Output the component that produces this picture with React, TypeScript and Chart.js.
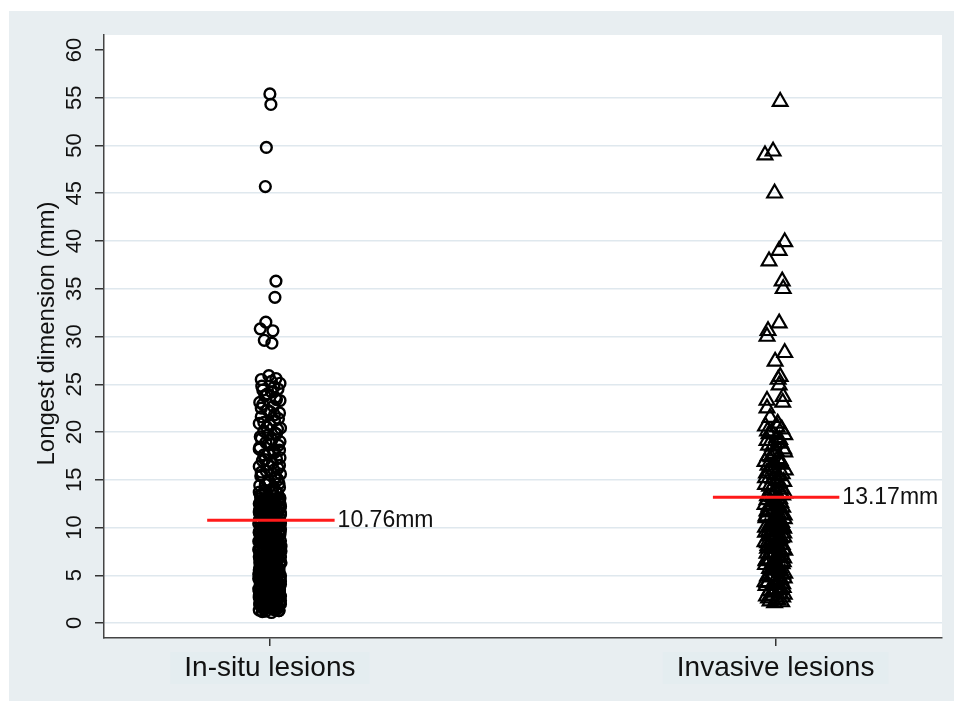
import React, { useEffect, useRef } from "react";
import { Chart, registerables } from "chart.js";

Chart.register(...registerables);

const categories = ["In-situ lesions", "Invasive lesions"];
const yTicks = [0, 5, 10, 15, 20, 25, 30, 35, 40, 45, 50, 55, 60];
const yTitle = "Longest dimension (mm)";
const meanValues = [10.76, 13.17];
const meanLabels = ["10.76mm", "13.17mm"];
const meanLineStart = [0.876, 1.876];
const meanLineEnd = [1.128, 2.126];

const insituY = [
  55.4, 54.3, 49.8, 45.7, 35.8, 34.1, 31.5, 30.8, 30.6, 29.6, 29.3,
  25.9, 25.6, 25.1, 24.8, 24.5, 24.2, 23.8, 23.4, 23.1, 22.7, 22.3, 22.0, 21.6, 21.2, 20.9, 20.7, 20.4, 20.1,
  19.8, 19.5, 19.2, 18.9, 18.6, 18.2, 18.0, 17.7, 17.3, 17.0, 16.7, 16.4, 16.2, 15.9, 15.6, 15.4, 15.1, 14.9,
  14.6, 14.4, 14.1, 13.9, 13.6, 13.4, 13.1, 12.9, 12.7, 12.5, 12.3, 12.1, 11.9, 11.7, 11.5, 11.3, 11.1, 10.9,
  10.7, 10.5, 10.3, 10.1, 9.9, 9.7, 9.5, 9.3, 9.1, 8.9, 8.7, 8.5, 8.3, 8.1, 7.9, 7.7, 7.5, 7.3, 7.1, 6.9, 6.7,
  6.5, 6.3, 6.1, 5.9, 5.7, 5.5, 5.3, 5.1, 4.9, 4.7, 4.5, 4.3, 4.1, 3.9, 3.7, 3.5, 3.3, 3.1, 2.9, 2.7, 2.5, 2.3,
  2.1, 1.9, 1.7, 1.5, 1.3, 1.2,
  1.4, 1.6, 1.8, 2.0, 2.2, 2.4, 2.6, 2.8, 3.0, 3.2, 3.4, 3.6, 3.8, 4.0, 4.2, 4.4, 4.6, 4.8, 5.0, 5.2, 5.4, 5.6,
  5.8, 6.0, 6.2, 6.4, 6.6, 6.8, 7.0, 7.2, 7.4, 7.6, 7.8, 8.0, 8.2, 8.4, 8.6, 8.8, 9.0, 9.2, 9.4, 9.6, 9.8, 10.0,
  10.2, 10.4, 10.6, 10.8, 11.0, 11.2, 11.4, 11.6, 11.8, 12.0, 12.2, 12.4, 12.6, 12.8, 13.0, 13.3, 13.7, 14.2,
  14.7, 15.3, 15.8, 16.5, 17.1, 17.8, 18.4, 19.0, 19.7, 20.3, 21.0, 21.8, 22.5, 23.6, 24.4, 25.3,
  1.1, 1.35, 1.55, 1.75, 1.95, 2.15, 2.35, 2.55, 2.75, 2.95, 3.15, 3.35, 3.55, 3.75, 3.95, 4.15, 4.35, 4.55, 4.75, 4.95,
  5.15, 5.35, 5.55, 5.75, 5.95, 6.15, 6.35, 6.55, 6.75, 6.95, 7.15, 7.35, 7.55, 7.75, 7.95, 8.15, 8.35, 8.55, 8.75, 8.95,
  9.15, 9.35, 9.55, 9.75, 9.95, 10.15, 10.35, 10.55, 10.75, 10.95, 11.15, 11.35, 11.55, 11.75, 11.95, 12.15, 12.35, 12.55,
  12.75, 12.95, 13.2, 13.5, 13.8,
  1.25, 1.45, 1.65, 1.85, 2.05, 2.25, 2.45, 2.65, 2.85, 3.05, 3.25, 3.45, 3.65, 3.85, 4.05, 4.25, 4.45, 4.65, 4.85, 5.05,
  5.25, 5.45, 5.65, 5.85, 6.05, 6.25, 6.45, 6.65, 6.85, 7.05, 7.25, 7.45, 7.65, 7.85, 8.05, 8.25, 8.45, 8.65, 8.85, 9.05,
  9.25, 9.45, 9.65, 9.85, 10.05, 10.25, 10.45, 10.65, 10.85, 11.05, 11.25, 11.45, 11.65, 11.85, 12.05, 12.25, 12.45, 12.65,
  12.85, 13.05,
  14.0, 14.5, 15.0, 15.5, 16.0, 16.6, 17.2, 17.6, 18.1, 18.7, 19.3, 19.9, 20.5, 21.4, 22.1, 22.9, 23.3, 24.0, 24.7, 25.5,
  1.3, 1.55, 1.8, 2.05, 2.3, 2.55, 2.8, 3.05, 3.3, 3.55, 3.8, 4.05, 4.3, 4.55, 4.8, 5.05, 5.3, 5.55, 5.8, 6.05,
  6.3, 6.55, 6.8, 7.05, 7.3, 7.55, 7.8, 8.05, 8.3, 8.55, 8.8, 9.05, 9.3, 9.55, 9.8, 10.05, 10.3, 10.55, 10.8, 11.05,
  11.3, 11.55, 11.8, 12.05, 12.3, 12.55, 12.8,
];
const insituX = [
  1.000, 1.002, 0.993, 0.991, 1.012, 1.010, 0.992, 0.981, 1.006, 0.989, 1.004,
  0.998, 1.012, 1.020, 0.984, 1.016, 1.003, 0.990, 1.013, 0.980, 1.007, 0.995, 1.019, 0.983, 1.009, 0.979, 1.000, 1.021, 0.988,
  1.013, 0.981, 1.004, 0.992, 1.017, 0.979, 1.009, 0.997, 1.020, 0.985, 1.005, 0.979, 1.016, 0.993, 1.021, 0.982, 1.010, 0.998,
  1.018, 0.980, 1.006, 0.990, 1.015, 0.981, 1.020, 0.996, 1.010, 0.979, 0.988, 1.017, 1.002, 0.984, 1.021, 0.995, 1.011, 0.980,
  1.005, 0.990, 1.018, 0.985, 1.014, 0.998, 0.979, 1.020, 1.007, 0.988, 1.016, 0.981, 1.003, 0.993, 1.019, 0.978, 1.011, 0.985, 1.000, 1.021, 0.990,
  1.014, 0.980, 1.006, 0.995, 1.018, 0.982, 1.009, 0.978, 1.000, 1.020, 0.988, 1.015, 0.981, 1.005, 0.993, 1.019, 0.979, 1.010, 0.987, 1.017, 0.982, 1.000,
  1.020, 0.980, 1.012, 0.990, 1.018, 0.985,
  1.008, 0.996, 0.984, 1.021, 1.004, 0.987, 1.014, 0.979, 1.001, 1.019, 0.991, 1.010, 0.981, 1.016, 0.996, 1.021, 0.979, 1.008, 0.987, 1.018, 0.995, 1.003,
  0.980, 1.012, 0.988, 1.020, 0.998, 0.981, 1.014, 0.992, 1.019, 0.979, 1.004, 0.987, 1.016, 0.997, 1.021, 0.982, 1.009, 0.993, 1.017, 0.980, 1.006, 0.989,
  1.020, 0.978, 1.011, 0.996, 1.019, 0.984, 1.003, 0.979, 1.015, 0.992, 1.021, 1.000, 0.982, 1.017, 0.988, 1.008, 0.979, 1.019,
  0.995, 1.012, 0.983, 1.019, 0.990, 1.008, 0.980, 1.020, 0.996, 1.015, 0.988, 1.009, 0.983, 1.011, 0.986, 1.003,
  1.003, 0.979, 1.016, 0.990, 1.010, 0.981, 1.021, 0.996, 1.008, 0.985, 1.014, 1.000, 0.978, 1.019, 0.989, 1.006, 0.983, 1.013, 0.997, 1.021,
  0.980, 1.009, 0.992, 1.017, 0.984, 1.001, 1.020, 0.987, 1.011, 0.979, 1.015, 0.994, 1.022, 0.982, 1.007, 0.990, 1.018, 0.978, 1.003, 0.993,
  1.012, 0.985, 1.020, 0.998, 0.981, 1.016, 0.989, 1.008, 0.979, 1.013, 0.995, 1.021, 0.986, 1.005, 0.980, 1.017, 0.991, 1.010,
  0.983, 1.019, 0.997, 0.985, 1.012,
  0.992, 1.013, 1.001, 0.983, 1.019, 0.995, 1.006, 0.979, 1.016, 1.002, 0.988, 1.012, 0.998, 0.981, 1.021, 0.993, 1.009, 0.978, 1.014, 1.003,
  0.987, 1.018, 0.999, 0.982, 1.011, 0.990, 1.005, 0.980, 1.017, 0.996, 1.008, 0.984, 1.013, 0.999, 1.022, 0.989, 1.004, 0.981, 1.015, 0.992,
  1.010, 0.979, 1.019, 0.986, 1.007, 0.997, 1.021, 0.983, 1.012, 0.991, 1.003, 0.980, 1.016, 0.994, 1.009, 0.985, 1.020, 0.998,
  1.006, 0.982,
  1.004, 0.991, 1.016, 0.984, 1.008, 0.997, 1.013, 0.988, 1.019, 1.002, 0.983, 1.010, 0.994, 1.017, 1.001, 0.986, 1.020, 0.995, 1.008, 0.983,
  1.018, 0.986, 1.007, 0.980, 1.015, 0.993, 1.021, 0.984, 1.005, 1.017, 0.982, 1.011, 0.991, 1.020, 0.985, 1.002, 1.016, 0.979, 1.009, 0.995,
  1.022, 0.983, 1.004, 0.990, 1.014, 0.980, 1.019, 0.997, 1.007, 0.986, 1.016, 0.981, 1.012, 0.994, 1.021, 0.986, 1.001, 1.018, 0.982, 1.009,
  0.990, 1.015, 0.980, 1.020, 0.996, 1.008, 0.984,
];

const invasiveY = [
  54.6, 49.0, 49.4, 45.0, 39.9, 39.0, 37.9, 35.8, 35.0, 31.4, 30.6, 30.0, 28.3, 27.4, 25.8, 25.5, 24.9, 23.7, 23.3, 23.1,
  22.5, 21.5, 20.9, 20.6, 20.3, 20.0, 19.7, 19.4, 19.1, 18.8, 18.5, 18.2, 17.9, 17.5, 17.2, 16.9, 16.6, 16.3, 16.0, 15.7,
  15.4, 15.1, 14.8, 14.5, 14.2, 13.9, 13.6, 13.3, 13.0, 12.7, 12.4, 12.1, 11.8, 11.5, 11.2, 10.9, 10.6, 10.3, 10.0, 9.7,
  9.4, 9.1, 8.8, 8.5, 8.2, 7.9, 7.6, 7.3, 7.0, 6.7, 6.4, 6.1, 5.8, 5.5, 5.2, 4.9, 4.6, 4.3, 4.0, 3.7, 3.4, 3.1, 2.8, 2.5, 2.2,
  19.8, 18.9, 17.7, 16.8, 15.9, 14.9, 14.0, 13.2, 12.5, 11.6, 10.8, 10.1, 9.3, 8.6, 7.8, 7.1, 6.3, 5.6, 4.8, 4.1, 3.3, 2.6, 3.0, 2.1,
  2.4, 2.9, 3.5, 3.9, 4.4, 4.7, 5.0, 5.4, 5.9, 6.2, 6.6, 6.9, 7.4, 7.7, 8.0, 8.4, 8.9, 9.2, 9.6, 9.9,
  10.4, 10.7, 11.0, 11.4, 11.9, 12.2, 12.6, 12.9, 13.4, 13.8, 14.3, 14.7, 15.2, 15.6, 16.1, 16.5, 17.0, 17.4, 18.0, 18.6,
  19.2, 20.1, 20.5,
  2.3, 2.7, 3.2, 3.6, 4.2, 4.5, 5.1, 5.7, 6.0, 6.5, 6.8, 7.2, 7.5, 8.1, 8.3, 8.7, 9.0, 9.5, 9.8, 10.2,
  10.5, 11.1, 11.3, 11.7, 12.0, 12.3, 12.8, 13.5,
];
const invasiveX = [
  2.009, 1.979, 1.995, 1.998, 2.018, 2.007, 1.987, 2.013, 2.015, 2.007, 1.985, 1.983, 2.018, 1.999, 2.009, 2.005, 2.007, 2.015, 1.983, 2.014,
  1.983, 1.989, 2.004, 1.980, 2.012, 1.992, 2.018, 2.002, 1.983, 2.010, 1.994, 2.016, 2.018, 1.985, 2.004, 1.979, 2.012, 1.992, 2.019, 1.982,
  2.006, 1.995, 2.016, 1.980, 2.003, 1.990, 2.018, 1.984, 2.008, 1.997, 1.979, 2.014, 1.988, 2.005, 1.981, 2.017, 1.995, 2.010, 1.980, 2.000,
  2.016, 1.986, 2.008, 1.979, 2.013, 1.993, 2.018, 1.983, 2.004, 1.990, 2.015, 1.980, 2.007, 1.996, 2.018, 1.984, 2.010, 1.979, 2.000, 2.015, 1.988, 2.008, 1.982, 2.002, 2.012,
  1.987, 2.006, 1.996, 2.009, 1.986, 2.002, 2.012, 1.993, 2.004, 1.985, 2.002, 2.014, 1.991, 2.003, 1.984, 2.012, 1.994, 2.004, 1.990, 2.014, 1.996, 1.986, 2.017, 1.998,
  2.005, 1.993, 2.011, 1.981, 1.998, 2.017, 1.987, 2.009, 1.995, 2.013, 1.982, 2.006, 1.990, 2.015, 1.997, 1.984, 2.011, 1.999, 1.986, 2.016,
  1.993, 2.008, 1.981, 2.012, 1.996, 1.987, 2.010, 1.983, 2.014, 1.999, 1.988, 2.007, 1.980, 2.013, 1.996, 1.985, 2.009, 1.991, 2.001, 1.986,
  2.008, 1.984, 2.003,
  1.989, 2.014, 1.996, 2.008, 1.983, 2.006, 2.014, 1.988, 2.003, 1.981, 2.016, 1.997, 2.010, 1.985, 2.003, 1.995, 2.016, 1.980, 2.008, 1.990,
  2.012, 1.998, 2.017, 1.983, 2.006, 1.993, 2.000, 2.011,
];

const FONT = "'Liberation Sans', Arial, Helvetica, sans-serif";

const decorPlugin = {
  id: "decor",
  beforeDraw(chart: any) {
    const { ctx, chartArea: a, width, height } = chart;
    ctx.save();
    ctx.fillStyle = "#ffffff";
    ctx.fillRect(0, 0, width, height);
    ctx.fillStyle = "#e8eef1";
    ctx.fillRect(9, 11, width - 9, height - 11);
    ctx.fillStyle = "#ffffff";
    ctx.fillRect(a.left, a.top, a.right - a.left, a.bottom - a.top);
    const xs = chart.scales.x;
    ctx.font = `28px ${FONT}`;
    categories.forEach((c, i) => {
      const px = xs.getPixelForValue(i + 1);
      const w = ctx.measureText(c).width;
      ctx.fillStyle = "#e4edf0";
      ctx.fillRect(px - w / 2 - 14, 652, w + 28, 32);
    });
    ctx.restore();
  },
  afterDraw(chart: any) {
    const { ctx } = chart;
    const xs = chart.scales.x;
    const ys = chart.scales.y;
    ctx.save();
    ctx.fillStyle = "#111111";
    ctx.font = `22px ${FONT}`;
    ctx.textAlign = "center";
    ctx.textBaseline = "middle";
    yTicks.forEach((v) => {
      const py = ys.getPixelForValue(v);
      ctx.save();
      ctx.translate(75, py);
      ctx.rotate(-Math.PI / 2);
      ctx.fillText(String(v), 0, 0);
      ctx.restore();
    });
    ctx.font = `24px ${FONT}`;
    ctx.save();
    ctx.translate(47, (chart.chartArea.top + chart.chartArea.bottom) / 2 - 3);
    ctx.rotate(-Math.PI / 2);
    ctx.fillText(yTitle, 0, 0);
    ctx.restore();
    ctx.font = `28px ${FONT}`;
    categories.forEach((c, i) => {
      ctx.fillText(c, xs.getPixelForValue(i + 1), 668);
    });
    ctx.font = `23px ${FONT}`;
    ctx.textAlign = "left";
    meanValues.forEach((m, i) => {
      ctx.fillText(meanLabels[i], xs.getPixelForValue(meanLineEnd[i]) + 3, ys.getPixelForValue(m));
    });
    ctx.restore();
  },
};

export default function App() {
  const ref = useRef<HTMLCanvasElement | null>(null);
  useEffect(() => {
    if (!ref.current) return;
    const meanSets = meanValues.map((m, i) => ({
      type: "line" as const,
      data: [
        { x: meanLineStart[i], y: m },
        { x: meanLineEnd[i], y: m },
      ],
      borderColor: "#ff1a1a",
      borderWidth: 3,
      pointRadius: 0,
      fill: false,
    }));
    const chart = new Chart(ref.current, {
      type: "scatter",
      data: {
        datasets: [
          ...meanSets,
          {
            type: "scatter" as const,
            data: insituY.map((y, i) => ({ x: insituX[i], y })),
            pointStyle: "circle",
            pointRadius: 5.4,
            borderColor: "#000000",
            backgroundColor: "rgba(0,0,0,0)",
            borderWidth: 2.4,
          },
          {
            type: "scatter" as const,
            data: invasiveY.map((y, i) => ({ x: invasiveX[i], y })),
            pointStyle: "triangle",
            pointRadius: 8.5,
            borderColor: "#000000",
            backgroundColor: "rgba(0,0,0,0)",
            borderWidth: 2.2,
          },
        ] as any,
      },
      options: {
        animation: false,
        responsive: false,
        devicePixelRatio: 1,
        layout: { padding: { left: 0, top: 35, right: 12, bottom: 0 } },
        plugins: { legend: { display: false }, tooltip: { enabled: false } },
        scales: {
          x: {
            type: "linear",
            min: 0.672,
            max: 2.329,
            afterFit: (s: any) => {
              s.height = 63;
            },
            afterBuildTicks: (s: any) => {
              s.ticks = categories.map((_, i) => ({ value: i + 1 }));
            },
            grid: {
              drawOnChartArea: false,
              drawTicks: true,
              tickLength: 8,
              color: "#333333",
              lineWidth: 1.5,
            },
            border: { display: true, color: "#444444", width: 1.5 },
            ticks: { display: false },
          },
          y: {
            type: "linear",
            min: -1.57,
            max: 61.57,
            afterFit: (s: any) => {
              s.width = 104;
            },
            afterBuildTicks: (s: any) => {
              s.ticks = yTicks.map((v) => ({ value: v }));
            },
            grid: {
              drawOnChartArea: true,
              drawTicks: true,
              tickLength: 9,
              color: (c: any) => (c.tick && c.tick.value === 60 ? "rgba(0,0,0,0)" : "#dfe8ee"),
              tickColor: "#333333",
              lineWidth: 1.5,
            },
            border: { display: true, color: "#444444", width: 1.5 },
            ticks: { display: false },
          },
        },
      } as any,
      plugins: [decorPlugin],
    });
    return () => chart.destroy();
  }, []);
  return (
    <div style={{ position: "fixed", left: 0, top: 0, width: 954, height: 701 }}>
      <canvas ref={ref} width={954} height={701} style={{ display: "block" }} />
    </div>
  );
}
